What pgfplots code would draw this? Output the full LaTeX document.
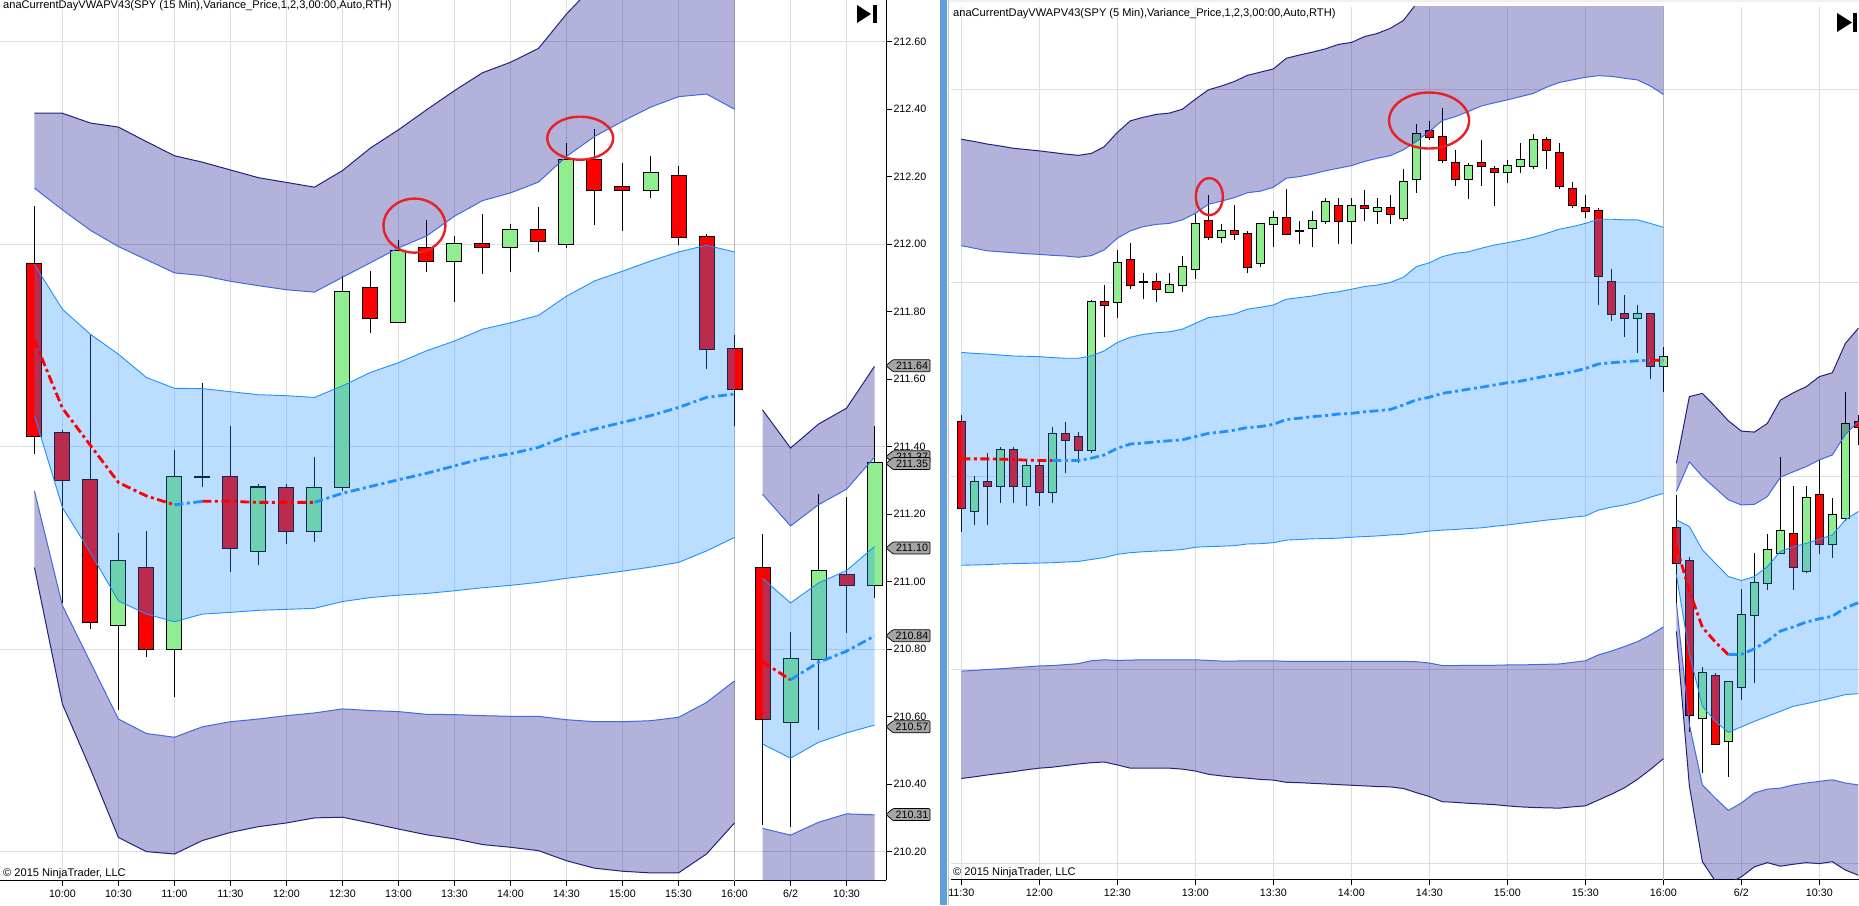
\documentclass[border=0pt]{standalone}
\usepackage{fontspec}
\setmainfont{Liberation Sans}
\usepackage{pgfplots}
\pgfplotsset{compat=1.18}
\usepackage{pgfplotstable}

\definecolor{dodger}{RGB}{30,144,255}
\definecolor{royal}{RGB}{65,105,225}
\definecolor{navyband}{RGB}{0,0,139}
\definecolor{midnight}{RGB}{35,35,125}
\definecolor{upgreen}{RGB}{144,238,144}
\definecolor{dnred}{RGB}{255,0,0}
\definecolor{gridgray}{RGB}{222,222,222}
\definecolor{breakgray}{RGB}{185,185,185}
\definecolor{ellred}{RGB}{232,32,40}
\definecolor{sepblue}{RGB}{96,158,220}
\definecolor{markgray}{RGB}{165,165,165}

\pgfplotsset{
 candle/.style 2 args={draw=none, mark=none, forget plot, error bars/.cd, y dir=plus, y explicit, error mark=none, error bar style={line width=#1, draw=#2, solid}},
 ln1/.style={dodger, line width=0.9pt, forget plot},
 ln2/.style={royal, line width=1pt, forget plot},
 ln3/.style={midnight, line width=1pt, forget plot},
 pfill/.style={fill=navyband, fill opacity=0.3, draw=none, forget plot},
 bfill/.style={fill=dodger, fill opacity=0.3, draw=none, forget plot},
 vwr/.style={red, line width=2.8pt, dash pattern=on 9pt off 3.5pt on 3pt off 3.5pt, forget plot},
 vwb/.style={dodger, line width=2.8pt, dash pattern=on 9pt off 3.5pt on 3pt off 3.5pt, forget plot},
 leftgeom/.style={at={(0pt,25pt)}, anchor=south west, scale only axis, width=886pt, height=880pt,
   xmin=-1.229, xmax=30.41, ymin=210.116, ymax=212.7236},
 rightgeom/.style={at={(951pt,25.7pt)}, anchor=south west, scale only axis, width=908pt, height=872.3pt,
   xmin=-0.792, xmax=69.05, ymin=209.9504, ymax=212.655},
}

% ---------------- 15 min panel: bands ----------------
\pgfplotstableread{
x u3 u2 u1 vw l1 l2 l3
0 212.388 212.166 211.940 211.716 211.492 211.269 211.042
1 212.388 212.102 211.807 211.514 211.220 210.929 210.637
2 212.359 212.041 211.733 211.404 211.086 210.761 210.445
3 212.347 211.993 211.674 211.294 210.943 210.593 210.242
4 212.304 211.954 211.605 211.254 210.904 210.550 210.200
5 212.262 211.915 211.573 211.228 210.881 210.539 210.193
6 212.243 211.907 211.572 211.238 210.904 210.570 210.233
7 212.220 211.890 211.563 211.238 210.909 210.585 210.257
8 212.197 211.877 211.554 211.235 210.915 210.593 210.274
9 212.183 211.865 211.551 211.235 210.918 210.603 210.285
10 212.169 211.858 211.546 211.235 210.921 210.611 210.300
11 212.218 211.902 211.580 211.262 210.941 210.623 210.302
12 212.285 211.945 211.620 211.282 210.953 210.618 210.285
13 212.339 211.989 211.649 211.302 210.960 210.615 210.267
14 212.398 212.024 211.684 211.321 210.965 210.607 210.250
15 212.455 212.083 211.713 211.343 210.973 210.606 210.238
16 212.508 212.129 211.748 211.365 210.982 210.603 210.221
17 212.539 212.152 211.767 211.379 210.989 210.601 210.213
18 212.580 212.184 211.789 211.398 210.998 210.601 210.203
19 212.682 212.260 211.846 211.431 211.010 210.591 210.173
20 212.769 212.319 211.891 211.452 211.020 210.585 210.151
21 212.816 212.364 211.920 211.472 211.031 210.585 210.142
22 212.866 212.406 211.950 211.492 211.043 210.588 210.137
23 212.899 212.437 211.977 211.516 211.057 210.598 210.137
24 212.899 212.445 211.997 211.546 211.091 210.642 210.193
25 212.819 212.400 211.977 211.556 211.131 210.706 210.285
}\LA
\pgfplotstableread{
x u3 u2 u1 vw l1 l2 l3
26 211.509 211.259 211.010 210.763 210.519 210.269 210.022
27 211.396 211.165 210.937 210.709 210.477 210.249 210.025
28 211.467 211.228 210.996 210.761 210.524 210.287 210.056
29 211.514 211.274 211.033 210.794 210.552 210.312 210.077
30 211.638 211.369 211.104 210.839 210.575 210.309 210.044
}\LB
% 15 min candles
\pgfplotstableread{
i O H L C
3 210.871 211.143 210.619 211.060
5 210.800 211.389 210.659 211.309
6 211.309 211.590 211.280 211.309
8 211.090 211.289 211.048 211.279
10 211.149 211.369 211.119 211.279
11 211.280 211.905 211.270 211.859
13 211.769 212.011 211.769 211.979
15 211.950 212.023 211.830 212.000
17 211.991 212.060 211.918 212.041
19 212.000 212.301 211.990 212.249
22 212.160 212.262 212.138 212.210
27 210.583 210.852 210.272 210.772
28 210.772 211.260 210.560 211.032
30 210.990 211.460 210.951 211.351
}\LU
\pgfplotstableread{
i O H L C
0 211.942 212.112 211.379 211.431
1 211.440 211.450 210.937 211.300
2 211.300 211.730 210.859 210.880
4 211.040 211.150 210.778 210.800
7 211.309 211.460 211.030 211.101
9 211.279 211.289 211.111 211.149
12 211.870 211.921 211.738 211.781
14 211.990 212.072 211.917 211.949
16 212.000 212.090 211.911 211.991
18 212.041 212.111 211.978 212.009
20 212.249 212.342 212.058 212.160
21 212.169 212.242 212.040 212.160
23 212.201 212.232 211.999 212.021
24 212.021 212.031 211.630 211.689
25 211.689 211.731 211.460 211.570
26 211.040 211.141 210.280 210.592
29 211.020 211.252 210.849 210.990
}\LD

% ---------------- 5 min panel: bands ----------------
\pgfplotstableread{
x u3 u2 u1 vw l1 l2 l3
0 212.245 211.915 211.584 211.254 210.924 210.596 210.263
1 212.238 211.907 211.581 211.254 210.925 210.598 210.268
2 212.230 211.899 211.579 211.254 210.926 210.601 210.274
3 212.224 211.896 211.576 211.253 210.928 210.603 210.279
4 212.217 211.893 211.573 211.252 210.929 210.606 210.284
5 212.213 211.890 211.572 211.250 210.930 210.609 210.290
6 212.209 211.888 211.571 211.249 210.931 210.612 210.295
7 212.204 211.885 211.568 211.249 210.932 210.613 210.298
8 212.199 211.883 211.566 211.249 210.934 210.616 210.303
9 212.195 211.879 211.566 211.249 210.936 210.619 210.308
10 212.201 211.884 211.573 211.256 210.942 210.628 210.312
11 212.222 211.902 211.589 211.266 210.948 210.631 210.314
12 212.266 211.938 211.615 211.287 210.958 210.629 210.305
13 212.302 211.961 211.631 211.300 210.963 210.630 210.295
14 212.313 211.974 211.640 211.303 210.966 210.631 210.295
15 212.322 211.981 211.645 211.307 210.968 210.631 210.295
16 212.326 211.984 211.648 211.310 210.970 210.631 210.295
17 212.338 211.995 211.656 211.313 210.973 210.631 210.292
18 212.369 212.015 211.674 211.323 210.980 210.631 210.286
19 212.398 212.043 211.692 211.333 210.982 210.629 210.276
20 212.410 212.053 211.697 211.337 210.983 210.627 210.271
21 212.424 212.064 211.703 211.343 210.985 210.627 210.267
22 212.443 212.079 211.718 211.351 210.990 210.628 210.264
23 212.453 212.084 211.724 211.354 210.991 210.628 210.260
24 212.463 212.096 211.731 211.361 210.994 210.628 210.258
25 212.496 212.124 211.749 211.376 211.002 210.626 210.251
26 212.506 212.129 211.754 211.380 211.004 210.626 210.250
27 212.515 212.137 211.759 211.385 211.006 210.626 210.248
28 212.525 212.147 211.767 211.388 211.007 210.626 210.246
29 212.539 212.155 211.772 211.393 211.008 210.626 210.244
30 212.545 212.163 211.780 211.395 211.011 210.626 210.242
31 212.563 212.176 211.788 211.400 211.013 210.626 210.240
32 212.573 212.186 211.793 211.403 211.015 210.626 210.238
33 212.589 212.194 211.801 211.407 211.018 210.626 210.237
34 212.613 212.212 211.817 211.421 211.020 210.626 210.232
35 212.665 212.238 211.850 211.437 211.025 210.625 210.219
36 212.696 212.269 211.862 211.445 211.030 210.621 210.207
37 212.729 212.303 211.881 211.457 211.033 210.613 210.191
38 212.747 212.315 211.891 211.463 211.035 210.613 210.189
39 212.748 212.331 211.896 211.470 211.038 210.614 210.186
40 212.769 212.348 211.907 211.476 211.040 210.614 210.184
41 212.785 212.358 211.917 211.483 211.045 210.614 210.182
42 212.792 212.367 211.924 211.490 211.049 210.615 210.178
43 212.806 212.377 211.932 211.495 211.054 210.615 210.175
44 212.817 212.387 211.941 211.503 211.059 210.616 210.173
45 212.837 212.406 211.953 211.511 211.064 210.617 210.172
46 212.864 212.421 211.966 211.517 211.068 210.618 210.171
47 212.874 212.429 211.974 211.524 211.073 210.623 210.175
48 212.884 212.437 211.984 211.534 211.077 210.628 210.178
49 212.895 212.442 211.997 211.548 211.095 210.646 210.196
50 212.887 212.440 211.997 211.552 211.104 210.658 210.214
51 212.875 212.434 211.995 211.555 211.111 210.672 210.234
52 212.869 212.429 211.995 211.558 211.121 210.687 210.260
53 212.832 212.410 211.984 211.560 211.135 210.708 210.291
54 212.796 212.384 211.972 211.559 211.147 210.733 210.324
}\RA
\pgfplotstableread{
x u3 u2 u1 vw l1 l2 l3
55 211.240 211.153 211.065 210.983 210.895 210.807 210.719
56 211.447 211.245 211.044 210.845 210.650 210.430 210.240
57 211.457 211.199 210.972 210.732 210.487 210.243 210.005
58 211.416 211.163 210.930 210.686 210.440 210.202 209.945
59 211.372 211.127 210.889 210.647 210.406 210.164 209.937
60 211.340 211.111 210.877 210.648 210.423 210.187 209.958
61 211.337 211.113 210.889 210.665 210.440 210.218 209.989
62 211.364 211.137 210.920 210.689 210.456 210.230 210.002
63 211.436 211.197 210.967 210.720 210.471 210.233 209.991
64 211.459 211.214 210.982 210.733 210.487 210.243 209.997
65 211.478 211.230 210.992 210.748 210.495 210.249 210.002
66 211.509 211.251 211.005 210.758 210.504 210.254 209.999
67 211.521 211.266 211.018 210.766 210.513 210.259 210.005
68 211.612 211.330 211.065 210.792 210.523 210.249 209.979
69 211.659 211.370 211.091 210.808 210.526 210.243 209.963
}\RB
% 5 min candles
\pgfplotstableread{
i O H L C
1 211.091 211.201 211.049 211.181
3 211.169 211.292 211.118 211.281
5 211.169 211.249 211.109 211.231
7 211.150 211.352 211.118 211.330
10 211.282 211.745 211.271 211.739
12 211.739 211.902 211.690 211.861
14 211.801 211.831 211.751 211.801
16 211.771 211.829 211.771 211.792
17 211.792 211.883 211.771 211.850
18 211.842 212.013 211.811 211.981
20 211.941 211.981 211.922 211.961
23 211.861 211.981 211.850 211.981
24 211.981 212.023 211.910 212.000
26 211.961 211.993 211.920 211.961
27 211.971 212.023 211.910 211.992
28 211.992 212.062 211.981 212.049
30 211.992 212.062 211.920 212.039
32 212.022 212.062 211.981 212.031
34 212.000 212.153 211.990 212.111
35 212.121 212.292 212.079 212.260
39 212.121 212.171 212.060 212.161
42 212.142 212.181 212.110 212.161
43 212.161 212.233 212.141 212.180
44 212.161 212.261 212.152 212.242
52 211.690 211.731 211.581 211.702
54 211.542 211.602 211.460 211.571
57 210.449 210.610 210.279 210.589
59 210.378 210.561 210.269 210.561
60 210.548 210.851 210.506 210.769
61 210.769 210.961 210.560 210.870
62 210.870 211.020 210.847 210.970
63 210.961 211.261 210.961 211.030
65 210.907 211.170 210.899 211.132
67 210.989 211.132 210.948 211.079
68 211.070 211.462 211.060 211.362
}\RU
\pgfplotstableread{
i O H L C
0 211.369 211.390 211.028 211.101
2 211.181 211.271 211.049 211.169
4 211.281 211.292 211.118 211.169
6 211.231 211.249 211.109 211.150
8 211.330 211.369 211.209 211.312
9 211.321 211.338 211.240 211.281
11 211.739 211.793 211.631 211.731
13 211.870 211.922 211.780 211.793
15 211.801 211.829 211.739 211.780
19 211.992 212.072 211.931 211.941
21 211.961 212.041 211.931 211.951
22 211.950 211.961 211.829 211.850
25 212.000 212.091 211.950 211.950
29 212.039 212.062 211.920 211.992
31 212.039 212.089 211.990 212.031
33 212.031 212.072 211.981 212.012
36 212.269 212.302 212.243 212.251
37 212.251 212.341 212.171 212.181
38 212.171 212.212 212.101 212.121
40 212.171 212.243 212.101 212.161
41 212.152 212.163 212.039 212.142
45 212.242 212.252 212.152 212.211
46 212.201 212.233 212.090 212.101
47 212.090 212.111 212.031 212.040
48 212.031 212.072 212.000 212.021
49 212.021 212.031 211.731 211.821
50 211.801 211.843 211.680 211.702
51 211.702 211.762 211.631 211.690
53 211.702 211.702 211.501 211.542
55 211.039 211.142 210.808 210.930
56 210.938 210.949 210.408 210.459
58 210.580 210.589 210.370 210.370
64 211.020 211.170 210.847 210.920
66 211.141 211.251 210.959 210.989
69 211.369 211.390 211.297 211.352
}\RD

\newcommand{\candles}[5]{%
 \addplot[candle={1.1pt}{black}] table[x=i, y=L, y error plus expr=\thisrow{H}-\thisrow{L}] {#1};
 \addplot[candle={1.1pt}{black}] table[x=i, y=L, y error plus expr=\thisrow{H}-\thisrow{L}] {#2};
 \addplot[candle={#3}{black}] table[x=i, y expr=\thisrow{O}-#5, y error plus expr=\thisrow{C}-\thisrow{O}+2*#5] {#1};
 \addplot[candle={#3}{black}] table[x=i, y expr=\thisrow{C}-#5, y error plus expr=\thisrow{O}-\thisrow{C}+2*#5] {#2};
 \addplot[candle={#4}{upgreen}] table[x=i, y=O, y error plus expr=\thisrow{C}-\thisrow{O}] {#1};
 \addplot[candle={#4}{dnred}] table[x=i, y=C, y error plus expr=\thisrow{O}-\thisrow{C}] {#2};
}
% band fills by stacking: each filled plot covers the area between the running stack and its new top
\newcommand{\fillsession}[2]{%
\begin{axis}[#1, hide axis, stack plots=y]
 \addplot[draw=none, forget plot] table[x=x, y=u2]{#2};
 \addplot[pfill] table[x=x, y expr=\thisrow{u3}-\thisrow{u2}]{#2} \closedcycle;
 \addplot[draw=none, forget plot] table[x=x, y expr=\thisrow{l1}-\thisrow{u3}]{#2};
 \addplot[bfill] table[x=x, y expr=\thisrow{u1}-\thisrow{l1}]{#2} \closedcycle;
 \addplot[draw=none, forget plot] table[x=x, y expr=\thisrow{l3}-\thisrow{u1}]{#2};
 \addplot[pfill] table[x=x, y expr=\thisrow{l2}-\thisrow{l3}]{#2} \closedcycle;
\end{axis}}
\newcommand{\bandlines}[1]{%
 \addplot[ln3] table[x=x,y=u3]{#1};
 \addplot[ln2] table[x=x,y=u2]{#1};
 \addplot[ln1] table[x=x,y=u1]{#1};
 \addplot[ln1] table[x=x,y=l1]{#1};
 \addplot[ln2] table[x=x,y=l2]{#1};
 \addplot[ln3] table[x=x,y=l3]{#1};
}
\newcommand{\pmark}[2]{%
 \draw[fill=markgray, draw=black, line width=0.7pt, rounded corners=1pt] (#1) -- ++(7pt,6pt) -- ++(37pt,0pt) -- ++(0pt,-12pt) -- ++(-37pt,0pt) -- cycle;
 \node[font=\fontsize{10.7}{12}\selectfont, inner sep=0pt] at ([xshift=26pt]#1) {#2};
}

\begin{document}
\begin{tikzpicture}
\useasboundingbox (0pt,0pt) rectangle (1859pt,905pt);
\fill[white] (0pt,0pt) rectangle (1859pt,905pt);

% ================= LEFT PANEL (15 Min): frame, grid, candles =================
\begin{axis}[
 leftgeom,
 axis x line*=bottom, axis y line*=right,
 axis line style={-, black, line width=1pt},
 xtick={1,3,5,7,9,11,13,15,17,19,21,23,25,27,29},
 xticklabels={10:00,10:30,11:00,11:30,12:00,12:30,13:00,13:30,14:00,14:30,15:00,15:30,16:00,6/2,10:30},
 ytick={210.2,210.8,211.4,212.0,212.6},
 extra y ticks={210.4,210.6,211.0,211.2,211.6,211.8,212.2,212.4},
 extra y tick style={grid=none},
 xmajorgrids, ymajorgrids,
 grid style={gridgray, line width=1pt},
 tick align=outside, major tick length=6pt,
 tick style={black, line width=0.8pt},
 tick label style={font=\fontsize{10.7}{12}\selectfont},
 yticklabel style={xshift=-2pt, /pgf/number format/fixed, /pgf/number format/fixed zerofill, /pgf/number format/precision=2, /pgf/number format/assume math mode=true},
 /pgf/number format/assume math mode=true,
]
\addplot[breakgray, line width=1pt, forget plot] coordinates {(25,210) (25,213)};
\candles{\LU}{\LD}{16pt}{14pt}{0.003}
\end{axis}
\fillsession{leftgeom}{\LA}
\fillsession{leftgeom}{\LB}
\begin{axis}[leftgeom, hide axis]
\bandlines{\LA}
\bandlines{\LB}
\addplot[vwr, restrict x to domain=0:5] table[x=x,y=vw]{\LA};
\addplot[vwb, restrict x to domain=5:6] table[x=x,y=vw]{\LA};
\addplot[vwr, restrict x to domain=6:10] table[x=x,y=vw]{\LA};
\addplot[vwb, restrict x to domain=10:25] table[x=x,y=vw]{\LA};
\addplot[vwr, restrict x to domain=26:27] table[x=x,y=vw]{\LB};
\addplot[vwb, restrict x to domain=27:30] table[x=x,y=vw]{\LB};
\coordinate (e1) at (axis cs:13.57,212.055);
\coordinate (e2) at (axis cs:19.49,212.314);
\coordinate (m1) at (axis cs:30.41,211.64);
\coordinate (m2) at (axis cs:30.41,211.37);
\coordinate (m3) at (axis cs:30.41,211.35);
\coordinate (m4) at (axis cs:30.41,211.10);
\coordinate (m5) at (axis cs:30.41,210.84);
\coordinate (m6) at (axis cs:30.41,210.57);
\coordinate (m7) at (axis cs:30.41,210.31);
\end{axis}
\draw[ellred, line width=2.4pt] (e1) ellipse [x radius=31pt, y radius=27pt];
\draw[ellred, line width=2.4pt] (e2) ellipse [x radius=33pt, y radius=21.5pt];
\pmark{m1}{211.64}
\pmark{m2}{211.37}
\pmark{m3}{211.35}
\pmark{m4}{211.10}
\pmark{m5}{210.84}
\pmark{m6}{210.57}
\pmark{m7}{210.31}

% ================= RIGHT PANEL (5 Min) =================
\begin{axis}[
 rightgeom,
 axis x line*=bottom, axis y line*=right,
 axis line style={-, black, line width=1pt},
 y axis line style={draw=none},
 xtick={0,6,12,18,24,30,36,42,48,54,60,66},
 xticklabels={11:30,12:00,12:30,13:00,13:30,14:00,14:30,15:00,15:30,16:00,6/2,10:30},
 ytick={210.0,210.6,211.2,211.8,212.4}, yticklabels={},
 xmajorgrids, ymajorgrids,
 grid style={gridgray, line width=1pt},
 tick align=outside, major tick length=6pt,
 tick style={black, line width=0.8pt},
 tick label style={font=\fontsize{10.7}{12}\selectfont},
]
\addplot[breakgray, line width=1pt, forget plot] coordinates {(54,209.9) (54,212.7)};
\candles{\RU}{\RD}{9pt}{7pt}{0.0031}
\end{axis}
\fillsession{rightgeom}{\RA}
\fillsession{rightgeom}{\RB}
\begin{axis}[rightgeom, hide axis]
\bandlines{\RA}
\bandlines{\RB}
\addplot[vwr, restrict x to domain=0:7] table[x=x,y=vw]{\RA};
\addplot[vwb, restrict x to domain=7:53] table[x=x,y=vw]{\RA};
\addplot[vwr, restrict x to domain=53:54] table[x=x,y=vw]{\RA};
\addplot[vwr, restrict x to domain=55:59] table[x=x,y=vw]{\RB};
\addplot[vwb, restrict x to domain=59:70] table[x=x,y=vw]{\RB};
\coordinate (e3) at (axis cs:19.08,212.067);
\coordinate (e4) at (axis cs:35.98,212.303);
\end{axis}
\draw[ellred, line width=2.4pt] (e3) ellipse [x radius=13.5pt, y radius=18.5pt];
\draw[ellred, line width=2.4pt] (e4) ellipse [x radius=40pt, y radius=28pt];

% separator and decorations
\fill[sepblue] (940pt,0pt) rectangle (947pt,905pt);
\draw[gray!45, line width=1pt] (948.5pt,0pt) -- (948.5pt,905pt);
\fill[gray!12] (949pt,903pt) rectangle (1859pt,905pt);

\node[anchor=west, inner sep=0pt, font=\fontsize{11.1}{13}\selectfont] at (3pt,899pt) {anaCurrentDayVWAPV43(SPY (15 Min),Variance\_Price,1,2,3,00:00,Auto,RTH)};
\node[anchor=west, inner sep=0pt, font=\fontsize{11.1}{13}\selectfont] at (953pt,891pt) {anaCurrentDayVWAPV43(SPY (5 Min),Variance\_Price,1,2,3,00:00,Auto,RTH)};
\node[anchor=west, inner sep=0pt, font=\fontsize{11.1}{13}\selectfont] at (3pt,31pt) {© 2015 NinjaTrader, LLC};
\node[anchor=west, inner sep=0pt, font=\fontsize{11.1}{13}\selectfont] at (953pt,32pt) {© 2015 NinjaTrader, LLC};

\fill[black] (857pt,900pt) -- (857pt,882pt) -- (871pt,891pt) -- cycle;
\fill[black] (873pt,882pt) rectangle (876.5pt,900pt);
\fill[black] (1837pt,892pt) -- (1837pt,873pt) -- (1852pt,882.5pt) -- cycle;
\fill[black] (1853pt,873pt) rectangle (1857pt,892pt);
\end{tikzpicture}
\end{document}
